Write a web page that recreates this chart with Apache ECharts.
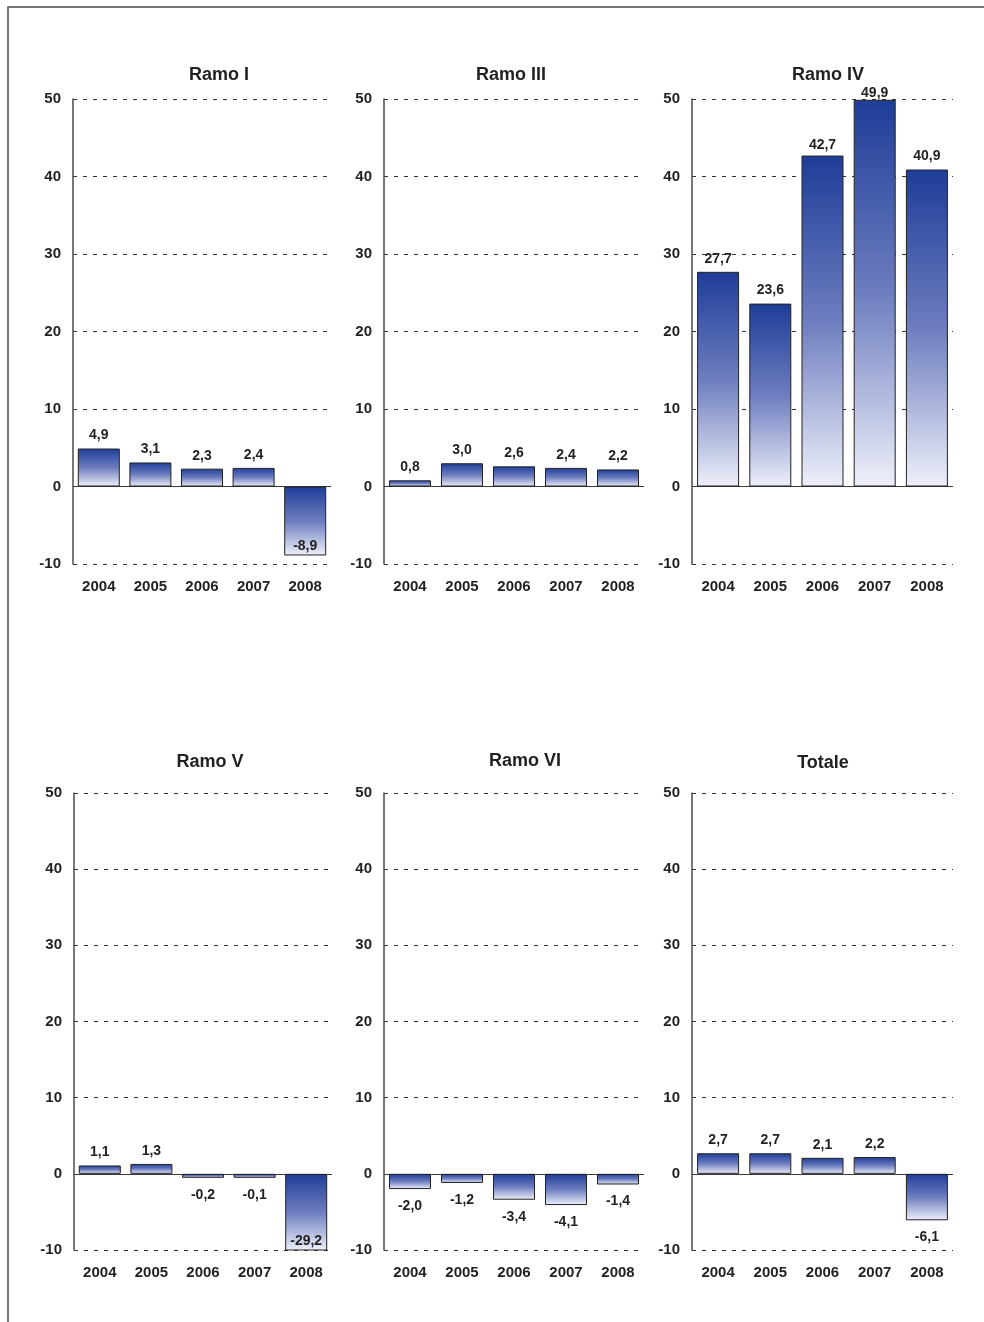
<!DOCTYPE html>
<html>
<head>
<meta charset="utf-8">
<script src="https://cdn.jsdelivr.net/npm/echarts@6/dist/echarts.min.js"></script>
<style>
  html, body { margin: 0; padding: 0; background: #fff; }
  #chart { width: 984px; height: 1322px; }
</style>
</head>
<body>
<div id="chart"></div>
<script>
// ---- data ----
var years = ['2004', '2005', '2006', '2007', '2008'];
var ramoI = [4.9, 3.1, 2.3, 2.4, -8.9];
var ramoIII = [0.8, 3.0, 2.6, 2.4, 2.2];
var ramoIV = [27.7, 23.6, 42.7, 49.9, 40.9];
var ramoV = [1.1, 1.3, -0.2, -0.1, -29.2];
var ramoVI = [-2.0, -1.2, -3.4, -4.1, -1.4];
var totale = [2.7, 2.7, 2.1, 2.2, -6.1];
var panelTitles = ['Ramo I', 'Ramo III', 'Ramo IV', 'Ramo V', 'Ramo VI', 'Totale'];
var yMin = -10, yMax = 50, yStep = 10;

var panelData = [ramoI, ramoIII, ramoIV, ramoV, ramoVI, totale];

// ---- layout (pixels) ----
var grids = [
  { left: 73, top: 99, width: 258, height: 465 },
  { left: 384, top: 99, width: 260, height: 465 },
  { left: 692, top: 99, width: 261, height: 465 },
  { left: 74, top: 793, width: 258, height: 457 },
  { left: 384, top: 793, width: 260, height: 457 },
  { left: 692, top: 793, width: 261, height: 457 }
];
var titlePos = [[219, 66], [511, 66], [828, 66], [210, 753], [525, 752], [823, 754]];
// labels drawn inside bar bottom (panel-index)
var insideLabels = { '0-4': true, '3-4': true };
var labelDist = { '2-3': 0, '2-2': 3 };

var font = '"Liberation Sans", Arial, sans-serif';
var textColor = '#231f20';

function fmt(v) { return v.toFixed(1).replace('.', ','); }

var barGradient = new echarts.graphic.LinearGradient(0, 0, 0, 1, [
  { offset: 0, color: '#1e3d98' },
  { offset: 0.5, color: '#6d7dbf' },
  { offset: 1, color: '#eef0fa' }
]);

var option = {
  backgroundColor: '#ffffff',
  animation: false,
  title: [],
  grid: [],
  xAxis: [],
  yAxis: [],
  series: [],
  graphic: [{
    type: 'rect',
    shape: { x: 8, y: 7, width: 1100, height: 1400 },
    style: { fill: 'none', stroke: '#4a4a4a', lineWidth: 1.5 },
    silent: true
  }]
};

panelData.forEach(function (vals, p) {
  option.title.push({
    text: panelTitles[p],
    left: titlePos[p][0],
    top: titlePos[p][1],
    textAlign: 'center',
    padding: 0,
    textStyle: { fontFamily: font, fontSize: 18, fontWeight: 'bold', color: textColor }
  });
  option.grid.push(Object.assign({ containLabel: false }, grids[p]));
  option.xAxis.push({
    type: 'category',
    gridIndex: p,
    data: years,
    position: 'bottom',
    axisLine: { show: false, onZero: false },
    axisTick: { show: false },
    axisLabel: { fontFamily: font, fontSize: 15, fontWeight: 'bold', color: textColor, margin: 15 }
  });
  option.yAxis.push({
    type: 'value',
    gridIndex: p,
    min: yMin,
    max: yMax,
    interval: yStep,
    axisLine: { show: true, lineStyle: { color: '#4a4a4a', width: 1.5 } },
    axisTick: { show: false },
    axisLabel: { fontFamily: font, fontSize: 15, fontWeight: 'bold', color: textColor, margin: 12 },
    splitLine: { show: true, lineStyle: { color: '#333', type: [4, 6], width: 1 } }
  });
  option.series.push({
    type: 'bar',
    xAxisIndex: p,
    yAxisIndex: p,
    barWidth: 42,
    barMinHeight: 4,
    clip: true,
    data: vals.map(function (v, i) {
      var key = p + '-' + i;
      var lbl;
      if (insideLabels[key]) {
        lbl = { position: 'insideBottom', distance: 2 };
      } else if (v < 0) {
        lbl = { position: 'bottom', distance: 10 };
      } else {
        lbl = { position: 'top', distance: (key in labelDist) ? labelDist[key] : 6 };
      }
      return { value: v, label: lbl };
    }),
    itemStyle: { color: barGradient, borderColor: '#222', borderWidth: 1 },
    label: {
      show: true,
      fontFamily: font,
      fontSize: 14,
      fontWeight: 'bold',
      color: textColor,
      formatter: function (prm) { return fmt(prm.value); }
    },
    markLine: {
      silent: true,
      symbol: 'none',
      label: { show: false },
      lineStyle: { color: '#3a3a3a', type: 'solid', width: 1 },
      data: [{ yAxis: 0 }],
      z: 1
    }
  });
});

var chart = echarts.init(document.getElementById('chart'), null, { renderer: 'canvas' });
chart.setOption(option);
</script>
</body>
</html>
